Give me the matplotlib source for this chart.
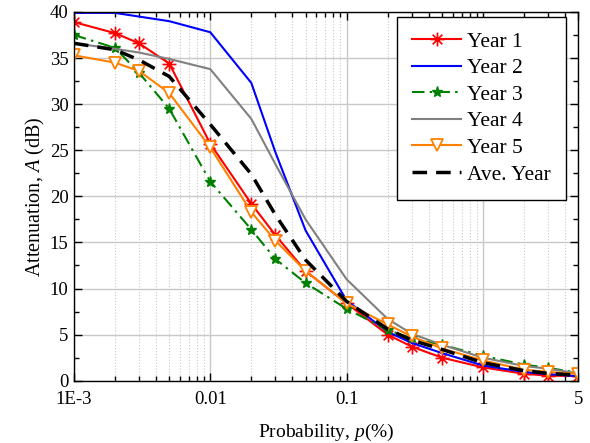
import matplotlib

matplotlib.use("Agg")
import matplotlib.pyplot as plt
from matplotlib.path import Path
from matplotlib.ticker import FixedLocator, NullFormatter, MultipleLocator

plt.rcParams["font.family"] = "Liberation Serif"
plt.rcParams["mathtext.fontset"] = "custom"
plt.rcParams["mathtext.rm"] = "Liberation Serif"
plt.rcParams["mathtext.it"] = "Liberation Serif:italic"

# exceedance probability (%)
prob = [0.001, 0.002, 0.003, 0.005, 0.01, 0.02, 0.03, 0.05,
        0.1, 0.2, 0.3, 0.5, 1, 2, 3, 5]

# attenuation (dB) per year
year1 = [38.9, 37.7, 36.6, 34.4, 25.7, 19.2, 15.8, 11.9, 8.4, 5.0, 3.7, 2.5, 1.45, 0.75, 0.55, 0.5]
year2 = [39.9, 39.9, 39.5, 39.0, 37.8, 32.3, 24.8, 16.3, 8.7, 5.3, 4.1, 3.0, 1.65, 0.95, 0.7, 0.5]
year3 = [37.5, 36.1, 33.4, 29.5, 21.6, 16.4, 13.2, 10.6, 7.8, 5.5, 4.6, 3.9, 2.7, 1.75, 1.4, 0.85]
year4 = [36.6, 36.0, 35.6, 34.9, 33.8, 28.4, 23.5, 17.5, 11.0, 6.7, 5.1, 3.9, 2.5, 1.6, 1.3, 0.8]
year5 = [35.3, 34.5, 33.6, 31.2, 25.3, 18.3, 15.2, 11.9, 8.4, 6.1, 4.8, 3.5, 2.2, 1.2, 0.95, 0.75]
year_ave = [36.6, 35.9, 34.8, 33.0, 27.8, 22.4, 18.0, 13.1, 8.6, 5.6, 4.4, 3.4, 1.95, 1.1, 0.8, 0.6]

xtick_vals = [0.001, 0.01, 0.1, 1, 5]
xtick_labels = ["1E-3", "0.01", "0.1", "1", "5"]

# 8-arm asterisk marker
asterisk = Path(
    [(-1, 0), (1, 0), (0, -1), (0, 1), (-0.7, -0.7), (0.7, 0.7), (-0.7, 0.7), (0.7, -0.7)],
    [Path.MOVETO, Path.LINETO] * 4,
)

fig = plt.figure(figsize=(5.9, 4.43), dpi=100)
ax = fig.add_axes([0.1254, 0.1406, 0.8546, 0.8324])

ax.plot(prob, year1, color="#ff0000", lw=1.5, marker=asterisk, ms=10,
        mec="#ff0000", mew=1.2, label="Year 1")
ax.plot(prob, year2, color="#0000ff", lw=1.5, label="Year 2")
ax.plot(prob, year3, color="#008000", lw=1.5, ls=(0, (6, 2.5, 1.2, 2.5)),
        marker="*", ms=8, mec="#008000", mfc="#008000", label="Year 3")
ax.plot(prob, year4, color="#808080", lw=1.5, label="Year 4")
ax.plot(prob, year5, color="#ff8000", lw=1.5, marker="v", ms=8.5, mfc="white",
        mec="#ff8000", mew=1.3, label="Year 5")
ax.plot(prob, year_ave, color="black", lw=2.5, ls=(0, (4.2, 2.6)), label="Ave. Year")

ax.set_xscale("log")
ax.set_xlim(0.001, 5)
ax.set_ylim(0, 40)

ax.xaxis.set_major_locator(FixedLocator(xtick_vals))
ax.set_xticklabels(xtick_labels)
minor_x = [m * 10.0 ** e for e in range(-3, 1) for m in range(2, 10) if m * 10.0 ** e < 5]
ax.xaxis.set_minor_locator(FixedLocator(minor_x))
ax.xaxis.set_minor_formatter(NullFormatter())
ax.yaxis.set_major_locator(MultipleLocator(5))
ax.yaxis.set_minor_locator(MultipleLocator(2.5))

ax.grid(True, which="major", color="#c8c8c8", lw=1.0, ls="-")
ax.grid(True, which="minor", axis="x", color="#c8c8c8", lw=0.8, ls=":")
ax.set_axisbelow(True)

ax.tick_params(which="both", direction="in", top=True, right=True, labelsize=13.5)
ax.tick_params(which="major", length=5.5, width=1.0)
ax.tick_params(axis="x", which="major", pad=7.5)
ax.tick_params(axis="y", which="major", pad=4)
ax.tick_params(which="minor", length=3.5, width=1.0)
for s in ax.spines.values():
    s.set_linewidth(1.0)

ax.set_xlabel("Probability, $p$(%)", fontsize=14, labelpad=10)
ax.set_ylabel("Attenuation, $A$ (dB)", fontsize=14.5, labelpad=2)

leg = ax.legend(loc="upper right", bbox_to_anchor=(0.975, 0.987), fontsize=15.5,
                frameon=True, fancybox=False, edgecolor="black", framealpha=1,
                handlelength=2.3, handletextpad=0.25, labelspacing=0.3,
                borderpad=0.7, borderaxespad=0)
leg.get_frame().set_linewidth(1.0)

fig.savefig("out.png", dpi=100)
